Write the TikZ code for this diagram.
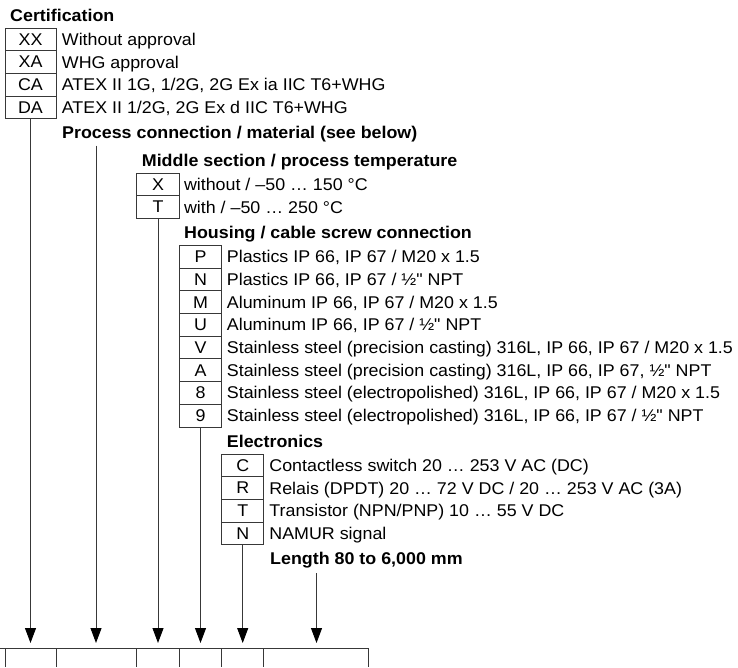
\documentclass[tikz,border=0pt]{standalone}
\usepackage{fontspec}
\setmainfont{Liberation Sans}[FakeStretch=1.05,Ligatures=TeXOff]
\usetikzlibrary{arrows.meta}
\newcommand\inq{\symbol{34}}
\begin{document}
\begin{tikzpicture}[x=1pt,y=-1pt,
  codebox/.style={draw=black!78, line width=0.9pt, outer sep=0pt, inner sep=0pt,
    minimum width=#1, minimum height=22.7pt, anchor=north west,
    font=\fontsize{17}{20}\selectfont},
  desc/.style={anchor=base west, inner sep=0pt, font=\fontsize{17}{20}\selectfont},
  head/.style={anchor=base west, inner sep=0pt, font=\fontsize{17}{20}\selectfont\bfseries},
  conn/.style={draw=black!78, line width=0.9pt, -{Triangle[width=11pt,length=15pt,black]}},
  frame/.style={draw=black!78, line width=0.9pt},
  ]
\useasboundingbox (0,0) rectangle (738,667);

% Certification
\node[head] (hcert) at (10,21) {Certification};
\node[codebox=51pt] (c1) at (5,28) {XX};
\node[codebox=51pt] (c2) at (c1.south west) {XA};
\node[codebox=51pt] (c3) at (c2.south west) {CA};
\node[codebox=51pt] (c4) at (c3.south west) {DA};
\node[desc] (dc1) at ([xshift=5.7pt,yshift=-6pt]c1.east) {Without approval};
\node[desc] (dc2) at ([xshift=5.7pt,yshift=-6pt]c2.east) {WHG approval};
\node[desc] (dc3) at ([xshift=5.7pt,yshift=-6pt]c3.east) {ATEX II 1G, 1/2G, 2G Ex ia IIC T6+WHG};
\node[desc] (dc4) at ([xshift=5.7pt,yshift=-6pt]c4.east) {ATEX II 1/2G, 2G Ex d IIC T6+WHG};

% Process connection
\node[head] (hproc) at (62,138.8) {Process connection / material (see below)};

% Middle section
\node[head] (hmid) at (141.7,166) {Middle section / process temperature};
\node[codebox=42.6pt] (m1) at (136.7,173) {X};
\node[codebox=42.6pt] (m2) at (m1.south west) {T};
\node[desc] (dm1) at ([xshift=4.5pt,yshift=-6pt]m1.east) {without / –50 … 150 °C};
\node[desc] (dm2) at ([xshift=4.5pt,yshift=-6pt]m2.east) {with / –50 … 250 °C};

% Housing
\node[head] (hhous) at (184,238.4) {Housing / cable screw connection};
\node[codebox=42.4pt] (h1) at (179.3,245.4) {P};
\node[codebox=42.4pt] (h2) at (h1.south west) {N};
\node[codebox=42.4pt] (h3) at (h2.south west) {M};
\node[codebox=42.4pt] (h4) at (h3.south west) {U};
\node[codebox=42.4pt] (h5) at (h4.south west) {V};
\node[codebox=42.4pt] (h6) at (h5.south west) {A};
\node[codebox=42.4pt] (h7) at (h6.south west) {8};
\node[codebox=42.4pt] (h8) at (h7.south west) {9};
\node[desc] (dh1) at ([xshift=5pt,yshift=-6pt]h1.east) {Plastics IP 66, IP 67 / M20 x 1.5};
\node[desc] (dh2) at ([xshift=5pt,yshift=-6pt]h2.east) {Plastics IP 66, IP 67 / ½\inq{} NPT};
\node[desc] (dh3) at ([xshift=5pt,yshift=-6pt]h3.east) {Aluminum IP 66, IP 67 / M20 x 1.5};
\node[desc] (dh4) at ([xshift=5pt,yshift=-6pt]h4.east) {Aluminum IP 66, IP 67 / ½\inq{} NPT};
\node[desc] (dh5) at ([xshift=5pt,yshift=-6pt]h5.east) {Stainless steel (precision casting) 316L, IP 66, IP 67 / M20 x 1.5};
\node[desc] (dh6) at ([xshift=5pt,yshift=-6pt]h6.east) {Stainless steel (precision casting) 316L, IP 66, IP 67, ½\inq{} NPT};
\node[desc] (dh7) at ([xshift=5pt,yshift=-6pt]h7.east) {Stainless steel (electropolished) 316L, IP 66, IP 67 / M20 x 1.5};
\node[desc] (dh8) at ([xshift=5pt,yshift=-6pt]h8.east) {Stainless steel (electropolished) 316L, IP 66, IP 67 / ½\inq{} NPT};

% Electronics
\node[head] (helec) at (226.7,447) {Electronics};
\node[codebox=42pt] (e1) at (221.7,454) {C};
\node[codebox=42pt] (e2) at (e1.south west) {R};
\node[codebox=42pt] (e3) at (e2.south west) {T};
\node[codebox=42pt] (e4) at (e3.south west) {N};
\node[desc] (de1) at ([xshift=5.5pt,yshift=-6pt]e1.east) {Contactless switch 20 … 253 V AC (DC)};
\node[desc] (de2) at ([xshift=5.5pt,yshift=-6pt]e2.east) {Relais (DPDT) 20 … 72 V DC / 20 … 253 V AC (3A)};
\node[desc] (de3) at ([xshift=5.5pt,yshift=-6pt]e3.east) {Transistor (NPN/PNP) 10 … 55 V DC};
\node[desc] (de4) at ([xshift=5.5pt,yshift=-6pt]e4.east) {NAMUR signal};

% Length
\node[head] (hlen) at (270,564.8) {Length 80 to 6,000 mm};

% arrow targets
\coordinate (a1) at (30.5,643);
\coordinate (a2) at (96,643);
\coordinate (a3) at (158,643);
\coordinate (a4) at (200.5,643);
\coordinate (a5) at (242.7,643);
\coordinate (a6) at (316.5,643);
\coordinate (p0) at (96,145.5);
\coordinate (l0) at (316.5,573);

\draw[conn] (c4.south) -- (a1);
\draw[conn] (p0) -- (a2);
\draw[conn] (m2.south) -- (a3);
\draw[conn] (h8.south) -- (a4);
\draw[conn] (e4.south) -- (a5);
\draw[conn] (l0) -- (a6);

% bottom code row
\draw[frame] (0,648) -- (368.3,648);
\foreach \xx in {5,56,136.7,179.3,221.7,263.7,368.3}
  \draw[frame] (\xx,648) -- (\xx,667);
\end{tikzpicture}
\end{document}
